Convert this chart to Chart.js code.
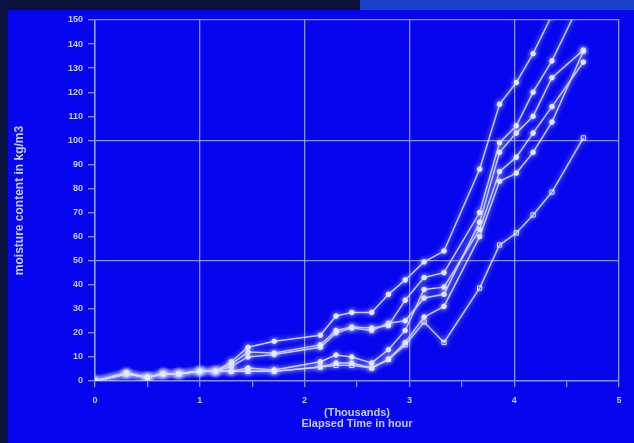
<!DOCTYPE html>
<html>
<head>
<meta charset="utf-8">
<script src="https://cdn.jsdelivr.net/npm/chart.js@4.4.1/dist/chart.umd.min.js"></script>
<style>
  html, body { margin: 0; padding: 0; }
  body { width: 634px; height: 443px; background: #0606ee; position: relative; overflow: hidden; }
  #topDark { position: absolute; left: 0; top: 0; width: 360px; height: 10px; background: #0b1238; }
  #topBlue { position: absolute; left: 360px; top: 0; width: 274px; height: 10px; background: #1a40c8; }
  #leftDark { position: absolute; left: 0; top: 0; width: 8px; height: 443px; background: #0a1240; }
  #wrap { position: absolute; left: 0; top: 0; width: 634px; height: 443px; filter: blur(0.5px); }
</style>
</head>
<body>
<div id="topDark"></div>
<div id="topBlue"></div>
<div id="leftDark"></div>
<div id="wrap"><canvas id="c" width="634" height="443"></canvas></div>
<script>
// Elapsed time (thousands of hours) at which readings were taken
const elapsedTime = [0, 0.3, 0.5, 0.65, 0.8, 1.0, 1.15, 1.3, 1.46, 1.71, 2.15, 2.3, 2.45, 2.64, 2.8, 2.96, 3.14, 3.33, 3.67, 3.86, 4.02, 4.18, 4.36, 4.66];

// Moisture content (kg/m3) for each series
const seriesA = [0, 3.5, 1.5, 3, 3, 4, 4, 8, 14, 16.5, 19, 27, 28.5, 28.5, 36, 42, 49.5, 54, 88, 115, 124, 136, 152, null];
const seriesB = [0, 3, 1.5, 3, 3, 4, 4, 7, 12, 11.6, 15, 21, 22.4, 22, 23, 33.6, 43, 45, 70, 99, 106, 120, 133, 160];
const seriesC = [0, 3, 1.5, 3, 3, 4, 4, 6, 10, 11, 14, 20, 22, 21, 24, 25, 34.5, 36, 66, 95, 103, 110, 126, 137.5];
const seriesD = [0, 3, 1.5, 3, 3, 4, 4, 4, 5.4, 4.6, 8, 10.8, 10, 7.5, 13, 21, 38, 39, 63, 87, 93, 103, 114, 132.5];
const seriesE = [0, 3, 1.5, 3, 3, 4, 4, 4, 4, 4, 5.8, 7.5, 7.5, 5.4, 9, 16, 26.6, 31, 60, 83, 86.4, 95, 107.6, 137];
const seriesF = [0, 3, 1.5, 3, 3, 4, 4, 4, 4, 4, 5.8, 6.5, 6.5, 5.4, 9, 15, 24.5, 16, 38.6, 56.5, 61.5, 69, 78.5, 101];

// Axis tick values
const xTickLabels = [0, 1, 2, 3, 4, 5];
const yTickStep = 10;

const lineColor = 'rgba(215,220,255,0.9)';
const gridColor = 'rgba(150,160,255,0.9)';
const textColor = '#c4caff';

function toPoints(vals) {
  return elapsedTime.map((t, i) => ({ x: t, y: vals[i] })).filter(p => p.y !== null);
}
function ds(vals, style) {
  return {
    data: toPoints(vals),
    showLine: true,
    borderColor: lineColor,
    borderWidth: 1.5,
    pointStyle: style,
    pointRadius: style === 'rect' ? 3 : 2.3,
    pointBackgroundColor: style === 'rect' ? 'rgba(0,0,0,0)' : 'rgba(235,238,255,0.95)',
    pointBorderColor: 'rgba(235,238,255,0.95)',
    pointBorderWidth: 1,
    tension: 0
  };
}

const glow = {
  id: 'glow',
  beforeDatasetsDraw(chart) {
    chart.ctx.save();
    chart.ctx.shadowColor = 'rgba(200,210,255,0.9)';
    chart.ctx.shadowBlur = 5;
  },
  afterDatasetsDraw(chart) { chart.ctx.restore(); }
};

new Chart(document.getElementById('c'), {
  type: 'scatter',
  data: {
    datasets: [
      ds(seriesA, 'circle'),
      ds(seriesB, 'circle'),
      ds(seriesC, 'circle'),
      ds(seriesD, 'circle'),
      ds(seriesE, 'circle'),
      ds(seriesF, 'rect')
    ]
  },
  options: {
    responsive: false,
    animation: false,
    events: [],
    layout: { padding: { top: 20, right: 15, left: 12, bottom: 0 } },
    plugins: { legend: { display: false }, tooltip: { enabled: false } },
    scales: {
      x: {
        type: 'linear',
        min: 0, max: 5,
        afterFit(s) { s.height = 62; },
        ticks: {
          stepSize: 0.5,
          autoSkip: false,
          maxRotation: 0,
          color: textColor,
          font: { family: 'Liberation Sans', size: 9, weight: 'bold' },
          padding: 8,
          callback: v => (xTickLabels.includes(v) ? String(v) : '')
        },
        grid: {
          color: c => (c.tick && Number.isInteger(c.tick.value) ? gridColor : 'rgba(0,0,0,0)'),
          tickColor: gridColor,
          tickLength: 6,
          lineWidth: 1.3
        },
        border: { color: gridColor, width: 1.5 },
        title: {
          display: true,
          text: ['(Thousands)', 'Elapsed Time in hour'],
          color: textColor,
          font: { family: 'Liberation Sans', size: 11, weight: 'bold', lineHeight: 1.0 },
          padding: { top: 0, bottom: 14 }
        }
      },
      y: {
        min: 0, max: 150,
        afterFit(s) { s.width = 83; },
        ticks: {
          stepSize: yTickStep,
          color: textColor,
          font: { family: 'Liberation Sans', size: 9, weight: 'bold' },
          padding: 5
        },
        grid: {
          color: c => (c.tick && c.tick.value > 0 && c.tick.value % 50 === 0 ? gridColor : 'rgba(0,0,0,0)'),
          tickColor: gridColor,
          tickLength: 7,
          lineWidth: 1.3
        },
        border: { color: gridColor, width: 1.5 },
        title: {
          display: true,
          text: 'moisture content in kg/m3',
          color: textColor,
          font: { family: 'Liberation Sans', size: 12, weight: 'bold' },
          padding: { top: 0, bottom: 0 }
        }
      }
    }
  },
  plugins: [glow]
});
</script>
</body>
</html>
